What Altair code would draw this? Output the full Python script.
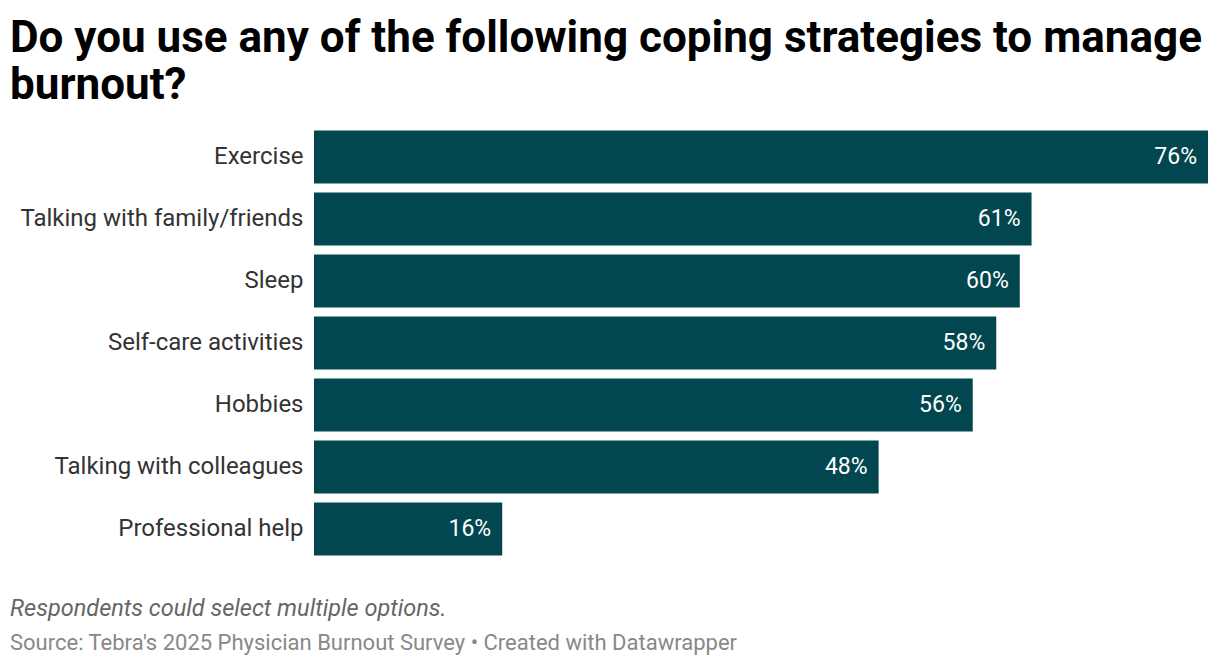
import altair as alt
import pandas as pd

categories = ["Exercise", "Talking with family/friends", "Sleep", "Self-care activities",
              "Hobbies", "Talking with colleagues", "Professional help"]
values = [76, 61, 60, 58, 56, 48, 16]

df = pd.DataFrame({"cat": categories, "val": values,
                   "label": [f"{v}%" for v in values]})

W, H = 894, 434
FONT = "Roboto"

base = alt.Chart(df).encode(
    y=alt.Y("cat:N", sort=categories, title=None,
            scale=alt.Scale(paddingInner=0.145, paddingOuter=0.0725),
            axis=alt.Axis(domain=False, ticks=False, labelFontSize=24, labelColor="#333333",
                          labelFont=FONT, labelPadding=11, labelLimit=400)),
    x=alt.X("val:Q", title=None, scale=alt.Scale(domain=[0, 76], nice=False, zero=True),
            axis=None),
)

bars = base.mark_bar(color="#02474f")
labels = base.mark_text(align="right", baseline="middle", dx=-11, font=FONT, fontSize=23,
                        color="white").encode(text="label:N")

def txt(s, y, size, weight="normal", style="normal", color="black", lh=None):
    kw = dict(align="left", baseline="alphabetic", font=FONT, fontSize=size,
              fontWeight=weight, fontStyle=style, color=color)
    if lh:
        kw.update(lineBreak="\n", lineHeight=lh)
    return alt.Chart(pd.DataFrame({"t": [s]})).mark_text(**kw).encode(
        text="t:N", x=alt.value(-304), y=alt.value(y))

t1 = txt("Do you use any of the following coping strategies to manage\nburnout?", -74, 44,
         "bold", lh=47)
n1 = txt("Respondents could select multiple options.", 490, 23.5, style="italic", color="#666666")
n2 = txt("Source: Tebra's 2025 Physician Burnout Survey \u2022 Created with Datawrapper", 524, 22,
         color="#888888")

chart = alt.layer(bars, labels, t1, n1, n2).properties(
    width=W, height=H,
    autosize=alt.AutoSizeParams(type="none"),
    padding={"left": 306, "top": 118, "right": 4, "bottom": 100},
).configure(background="white").configure_view(stroke=None)

chart.save("out.html", embed_options={"renderer": "svg", "actions": False})
